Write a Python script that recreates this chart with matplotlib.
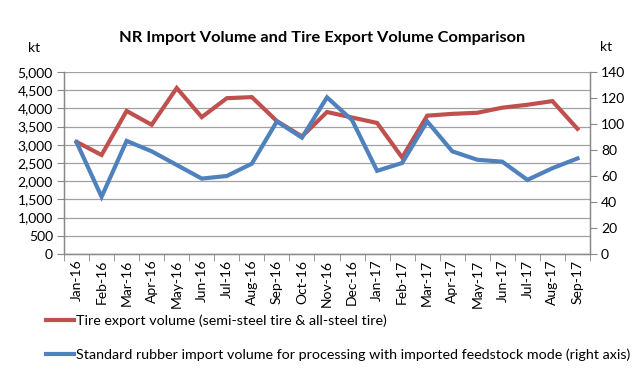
import matplotlib
matplotlib.use("Agg")
import matplotlib.pyplot as plt
from matplotlib.ticker import FuncFormatter, MultipleLocator
from matplotlib.lines import Line2D

months = ["Jan-16", "Feb-16", "Mar-16", "Apr-16", "May-16", "Jun-16", "Jul-16",
          "Aug-16", "Sep-16", "Oct-16", "Nov-16", "Dec-16", "Jan-17", "Feb-17",
          "Mar-17", "Apr-17", "May-17", "Jun-17", "Jul-17", "Aug-17", "Sep-17"]
tire_export = [3080, 2720, 3930, 3550, 4560, 3760, 4280, 4310, 3650, 3230, 3900,
               3750, 3600, 2650, 3800, 3850, 3880, 4020, 4100, 4200, 3440]
rubber_import = [86, 44, 87, 79, 68.5, 58, 60, 69.5, 102, 89.5, 120.5,
                 103, 64, 70, 102, 79, 72.5, 71, 57, 66, 73.5]

plt.rcParams['font.family'] = ['Lato', 'DejaVu Sans']

fig = plt.figure(figsize=(6.44, 3.86), dpi=100)
ax = fig.add_axes([64/644, 1-254/386, 526/644, 182/386])
ax2 = ax.twinx()

red = '#C0504D'
blue = '#4F81BD'
x = list(range(len(months)))
ax.plot(x, tire_export, color=red, lw=3.0, solid_joinstyle='miter', zorder=3)
ax2.plot(x, rubber_import, color=blue, lw=3.0, solid_joinstyle='miter', zorder=3)

ax.set_xlim(-0.5, len(months)-0.5)
ax.set_ylim(0, 5000)
ax2.set_ylim(0, 140)
ax.yaxis.set_major_locator(MultipleLocator(500))
ax2.yaxis.set_major_locator(MultipleLocator(20))
ax.yaxis.set_major_formatter(FuncFormatter(lambda v, p: f"{int(v):,}"))
ax.grid(axis='y', color='#A0A0A0', lw=0.9)
ax.set_axisbelow(True)

ax.set_xticks(x)
ax.set_xticklabels(months, rotation=90, fontsize=10)
ax.set_xticks([i - 0.5 for i in range(len(months)+1)], minor=True)
ax.tick_params(axis='x', which='major', length=0, pad=4)
ax.tick_params(axis='x', which='minor', length=5, color='#888888', direction='out')
ax.tick_params(axis='y', length=5, color='#888888', labelsize=10, pad=3)
ax2.tick_params(axis='y', length=5, color='#888888', labelsize=10, pad=3)

for a in (ax, ax2):
    a.spines['top'].set_visible(False)
    for s in ('left', 'right', 'bottom'):
        a.spines[s].set_color('#888888')
        a.spines[s].set_linewidth(0.9)

fig.text(0.5, 1-38/386, "NR Import Volume and Tire Export Volume Comparison",
         ha='center', va='center', fontsize=11.8, fontweight='bold')
fig.text(28/644, 1-48/386, "kt", ha='left', va='center', fontsize=10)
fig.text(600/644, 1-47/386, "kt", ha='left', va='center', fontsize=10)

handles = [Line2D([], [], color=red, lw=3.0),
           Line2D([], [], color=blue, lw=3.0)]
labels = ["Tire export volume (semi-steel tire & all-steel tire)",
          "Standard rubber import volume for processing with imported feedstock mode (right axis)"]
fig.legend(handles, labels, loc='upper left', bbox_to_anchor=(40/644, 1-309/386),
           frameon=False, fontsize=10.3, handlelength=2.0, handletextpad=0.15,
           labelspacing=1.45, borderaxespad=0)

fig.savefig("out.png", dpi=100)
